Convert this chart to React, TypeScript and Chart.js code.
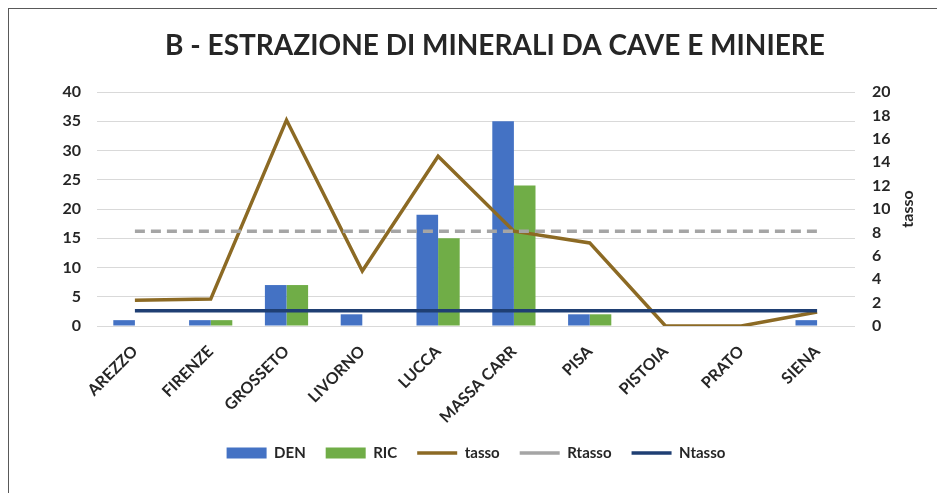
import React, { useEffect, useRef } from "react";
import { Chart, registerables } from "chart.js";

Chart.register(...registerables);

const categories = ["AREZZO", "FIRENZE", "GROSSETO", "LIVORNO", "LUCCA", "MASSA CARR", "PISA", "PISTOIA", "PRATO", "SIENA"];
const den = [1, 1, 7, 2, 19, 35, 2, 0, 0, 1];
const ric = [0, 1, 7, 0, 15, 24, 2, 0, 0, 0];
const tasso = [2.2, 2.3, 17.6, 4.7, 14.5, 8.1, 7.1, 0, 0, 1.2];
const rtasso = [8.1, 8.1, 8.1, 8.1, 8.1, 8.1, 8.1, 8.1, 8.1, 8.1];
const ntasso = [1.3, 1.3, 1.3, 1.3, 1.3, 1.3, 1.3, 1.3, 1.3, 1.3];

const TITLE = "B - ESTRAZIONE DI MINERALI DA CAVE E MINIERE";
const RIGHT_AXIS_TITLE = "tasso";
const FONT = "Lato, 'Open Sans', sans-serif";
const TEXT = "#262626";

const textPlugin = {
  id: "extraText",
  afterDraw(chart: any) {
    const { ctx, chartArea } = chart;
    ctx.save();
    // chart title
    ctx.font = `bold 28px ${FONT}`;
    ctx.fillStyle = TEXT;
    ctx.textAlign = "center";
    ctx.textBaseline = "alphabetic";
    ctx.fillText(TITLE, chartArea.left + (chartArea.right - chartArea.left) / 2 + 19, chartArea.top - 37);
    // right axis title
    ctx.font = `bold 16px ${FONT}`;
    ctx.translate(chartArea.right + 53, (chartArea.top + chartArea.bottom) / 2);
    ctx.rotate(-Math.PI / 2);
    ctx.textAlign = "center";
    ctx.textBaseline = "middle";
    ctx.fillText(RIGHT_AXIS_TITLE, 0, 0);
    ctx.restore();
  },
};

export default function App() {
  const ref = useRef<HTMLCanvasElement>(null);

  useEffect(() => {
    if (!ref.current) return;
    const chart = new Chart(ref.current, {
      data: {
        labels: categories,
        datasets: [
          { type: "bar", label: "DEN", data: den, backgroundColor: "#4472C4", yAxisID: "y", order: 4, categoryPercentage: 0.57, barPercentage: 1 },
          { type: "bar", label: "RIC", data: ric, backgroundColor: "#70AD47", yAxisID: "y", order: 5, categoryPercentage: 0.57, barPercentage: 1 },
          { type: "line", label: "tasso", data: tasso, borderColor: "#8C6A24", backgroundColor: "#8C6A24", borderWidth: 3.5, pointRadius: 0, yAxisID: "y1", order: 3, tension: 0 },
          { type: "line", label: "Rtasso", data: rtasso, borderColor: "#A5A5A5", backgroundColor: "#A5A5A5", borderWidth: 3.5, borderDash: [10, 6], pointRadius: 0, yAxisID: "y1", order: 2 },
          { type: "line", label: "Ntasso", data: ntasso, borderColor: "#1F3F73", backgroundColor: "#1F3F73", borderWidth: 3.5, pointRadius: 0, yAxisID: "y1", order: 1 },
        ],
      } as any,
      options: {
        responsive: true,
        maintainAspectRatio: false,
        animation: false,
        layout: { padding: { left: 53, right: 55, top: 83, bottom: 22.5 } },
        plugins: {
          tooltip: { enabled: false },
          title: { display: false },
          legend: {
            position: "bottom",
            labels: {
              color: TEXT,
              font: { family: FONT, size: 15, weight: "bold" },
              usePointStyle: true,
              pointStyleWidth: 40,
              boxHeight: 11,
              padding: 20,
              generateLabels(chart: any) {
                const items = (Chart.defaults.plugins.legend.labels as any).generateLabels(chart);
                items.forEach((it: any) => {
                  it.pointStyle = chart.data.datasets[it.datasetIndex].type === "bar" ? "rect" : "line";
                });
                return items.sort((a: any, b: any) => a.datasetIndex - b.datasetIndex);
              },
            },
          },
        },
        scales: {
          x: {
            grid: { display: false, drawTicks: false },
            border: { display: false },
            ticks: {
              color: TEXT,
              font: { family: FONT, size: 16, weight: "bold" },
              minRotation: 45,
              maxRotation: 45,
              autoSkip: false,
              padding: 16,
            },
            afterFit(s: any) {
              s.height = 99.5;
              s.paddingLeft = 0;
              s.paddingRight = 0;
            },
          },
          y: {
            position: "left",
            min: 0,
            max: 40,
            ticks: { stepSize: 5, color: TEXT, font: { family: FONT, size: 16, weight: "bold" }, padding: 16 },
            grid: { color: "#D9D9D9", lineWidth: 1, drawTicks: false },
            border: { display: false },
            afterFit(s: any) {
              s.width = 35;
            },
          },
          y1: {
            position: "right",
            min: 0,
            max: 20,
            ticks: { stepSize: 2, color: TEXT, font: { family: FONT, size: 16, weight: "bold" }, padding: 17 },
            grid: { display: false, drawTicks: false },
            border: { display: false },
            afterFit(s: any) {
              s.width = 35;
            },
          },
        },
      } as any,
      plugins: [textPlugin],
    });
    return () => chart.destroy();
  }, []);

  return (
    <div style={{ width: 936, height: 484, borderTop: "1px solid #595959", borderLeft: "1px solid #595959", position: "relative", background: "#fff" }}>
      <canvas ref={ref} />
    </div>
  );
}
